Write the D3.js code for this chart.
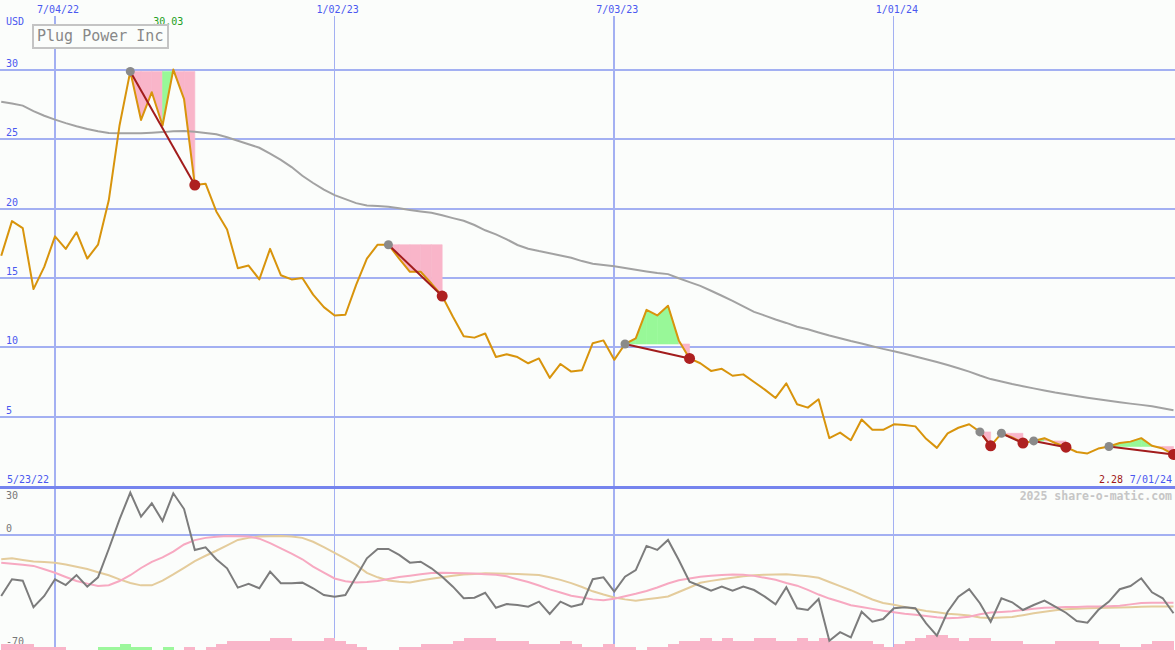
<!DOCTYPE html>
<html><head><meta charset="utf-8">
<script src="https://cdn.jsdelivr.net/npm/d3@7"></script>
<style>
body{margin:0;background:#fbfdfb}
svg{display:block}
text{font-family:"DejaVu Sans Mono","Liberation Mono",monospace}
</style>
</head><body>
<svg id="chart" width="1175" height="650"></svg>
<script>
// ---------------- data ----------------
const title = "Plug Power Inc";
const currency = "USD";
const firstWeek = "2022-05-30";      // weekly closes, Mondays
const rangeStartLabel = "5/23/22";
const endLabel = "7/01/24";

const price = [16.6,19.1,18.6,14.2,15.8,18.0,17.1,18.3,16.4,17.4,
 20.6,26.0,29.9,26.4,28.4,26.0,30.03,27.9,21.7,21.8,
 19.8,18.5,15.7,15.9,14.9,17.1,15.2,14.9,15.0,13.8,
 12.9,12.3,12.35,14.5,16.4,17.4,17.4,16.4,15.45,15.45,
 14.6,13.7,12.2,10.8,10.7,11.0,9.3,9.5,9.3,8.85,
 9.2,7.8,8.8,8.25,8.35,10.3,10.5,9.1,10.24,10.65,
 12.7,12.3,13.0,10.5,9.2,8.85,8.3,8.45,7.95,8.05,
 7.5,6.95,6.35,7.4,5.9,5.65,6.25,3.45,3.85,3.3,
 4.8,4.05,4.05,4.45,4.4,4.3,3.4,2.75,3.8,4.2,
 4.45,3.9,2.9,3.8,3.5,3.1,3.25,3.45,3.1,2.8,
 2.45,2.35,2.7,2.85,3.1,3.2,3.45,2.9,2.7,2.28];

const movingAvg = [27.71,27.58,27.43,27.04,26.7,26.42,26.17,25.95,25.75,25.58,
 25.46,25.43,25.43,25.44,25.48,25.52,25.58,25.6,25.54,25.46,
 25.36,25.15,24.9,24.65,24.39,23.97,23.52,23.0,22.37,21.85,
 21.37,20.98,20.69,20.4,20.23,20.19,20.14,20.03,19.91,19.8,
 19.7,19.52,19.32,19.13,18.82,18.44,18.15,17.79,17.38,17.11,
 16.94,16.79,16.63,16.46,16.22,16.03,15.94,15.85,15.72,15.59,
 15.47,15.36,15.28,14.98,14.7,14.43,14.08,13.72,13.35,12.95,
 12.56,12.29,12.01,11.76,11.49,11.3,11.07,10.85,10.65,10.45,
 10.27,10.08,9.89,9.72,9.54,9.34,9.14,8.94,8.72,8.49,
 8.25,7.97,7.71,7.53,7.35,7.2,7.04,6.89,6.74,6.62,
 6.49,6.37,6.26,6.15,6.04,5.94,5.85,5.75,5.61,5.47];

const oscillator = [-37.7,-27.3,-28.2,-44.7,-37.7,-27.3,-30.9,-24.7,-31.9,-26.1,
 -8.5,9.9,26.5,11.6,19.9,8.9,26.1,16.3,-9.1,-7.5,
 -14.9,-20.5,-32.5,-30.2,-32.9,-22.6,-29.8,-29.8,-29.4,-32.9,
 -37.1,-38.1,-37.1,-25.7,-14.3,-8.5,-8.5,-12.2,-17.0,-16.4,
 -20.5,-25.7,-31.9,-39.1,-38.8,-35.7,-45.0,-42.7,-43.3,-44.3,
 -41.2,-48.9,-41.2,-44.3,-42.7,-27.3,-26.1,-35.0,-25.7,-21.6,
 -6.6,-9.1,-2.9,-15.3,-28.8,-31.5,-34.4,-31.9,-34.4,-31.9,
 -34.0,-38.1,-42.9,-32.3,-45.3,-46.4,-39.6,-65.5,-60.2,-63.4,
 -47.5,-53.7,-52.0,-45.3,-44.7,-45.3,-54.7,-62.4,-47.5,-38.1,
 -33.4,-42.2,-53.7,-39.1,-41.6,-46.4,-43.3,-40.6,-44.3,-48.1,
 -53.2,-54.3,-46.4,-41.2,-33.5,-31.5,-26.7,-35.4,-39.1,-48.4];

const pinkSignal = [-17.0,-17.6,-18.3,-19.0,-21.1,-23.3,-25.9,-28.4,-30.0,-31.5,
 -31.0,-28.4,-24.8,-20.3,-16.5,-13.7,-10.1,-5.7,-3.0,-1.6,
 -0.9,-0.4,-0.6,-0.7,-2.1,-4.9,-8.1,-11.4,-14.9,-19.5,
 -23.2,-26.8,-28.5,-29.3,-29.0,-28.4,-27.1,-25.9,-25.1,-24.2,
 -23.4,-23.3,-23.4,-23.5,-23.8,-24.2,-24.5,-25.5,-27.3,-29.0,
 -31.2,-33.6,-35.5,-37.5,-38.6,-39.8,-40.4,-39.4,-37.8,-36.3,
 -34.6,-32.4,-29.9,-27.9,-26.8,-25.7,-25.1,-24.7,-24.3,-24.5,
 -25.2,-26.4,-27.6,-29.6,-31.3,-33.9,-36.8,-39.3,-41.3,-43.4,
 -44.5,-45.7,-46.8,-47.8,-48.7,-49.4,-50.1,-50.9,-51.5,-51.2,
 -50.6,-49.0,-48.0,-47.6,-47.1,-46.4,-45.6,-45.0,-44.8,-44.6,
 -44.5,-44.3,-44.2,-44.0,-43.7,-42.9,-42.0,-41.9,-41.9,-41.9];

const tanSignal = [-14.9,-14.3,-15.3,-16.3,-16.6,-17.0,-18.1,-19.5,-20.9,-22.9,
 -24.8,-27.4,-29.6,-31.1,-31.1,-28.1,-24.3,-20.2,-16.1,-12.7,
 -9.6,-6.3,-2.9,-1.6,-0.8,-0.6,-0.5,-0.8,-1.6,-4.0,
 -7.3,-10.9,-14.5,-18.4,-23.3,-26.1,-28.1,-28.8,-29.3,-28.1,
 -27.0,-26.0,-25.1,-24.4,-24.0,-23.6,-23.7,-23.9,-24.0,-24.3,
 -24.6,-26.0,-27.7,-29.7,-32.1,-34.8,-36.8,-38.6,-39.8,-40.6,
 -39.7,-38.9,-38.0,-35.2,-32.4,-29.5,-28.3,-27.3,-26.3,-25.5,
 -24.8,-24.5,-24.3,-24.2,-24.8,-25.5,-26.4,-29.0,-31.6,-34.1,
 -37.0,-39.9,-42.0,-43.2,-44.5,-45.8,-47.0,-47.8,-48.7,-49.2,
 -49.8,-51.1,-51.4,-51.1,-50.7,-49.6,-48.4,-47.5,-46.5,-46.0,
 -45.6,-45.3,-45.2,-45.0,-44.9,-44.7,-44.4,-44.3,-44.3,-44.3];

// weekly histogram strip (positive = green, negative = pink)
const histogram = [-2,-2,-2,-1,-1,-1,0,0,0,1,
 1,2,1,1,0,1,0,-1,0,-1,
 -2,-3,-3,-3,-3,-4,-4,-3,-3,-3,
 -4,-3,-2,-1,0,0,0,-1,-1,-2,
 -2,-2,-3,-4,-4,-4,-3,-3,-3,-2,
 -2,-2,-3,-2,-1,-1,-2,-1,-1,0,
 -1,-1,-2,-3,-3,-4,-3,-4,-3,-3,
 -4,-4,-3,-3,-4,-3,-4,-3,-3,-3,
 -3,-2,-1,-2,-3,-4,-5,-5,-4,-3,
 -4,-4,-3,-3,-3,-2,-2,-2,-3,-3,
 -3,-3,-2,-2,-1,-1,-2,-3,-3];

// trend signals: start / end weeks
const signalStart = ["2022-08-22","2023-02-06","2023-07-10","2024-02-26","2024-03-11","2024-04-01","2024-05-20"];
const signalEnd   = ["2022-10-03","2023-03-13","2023-08-21","2024-03-04","2024-03-25","2024-04-22","2024-07-01"];

const gridDates  = ["2022-07-04","2023-01-02","2023-07-03","2024-01-01"];
const gridLabels = ["7/04/22","1/02/23","7/03/23","1/01/24"];
const gridMajor  = [true,false,true,false];
const priceTicks = [30,25,20,15,10,5];
const lowerTickLabels = [30,0,-70];
const lowerGrid = [0];
const credit = "2025 share-o-matic.com";

// ---------------- drawing ----------------
const W = 1175, H = 650;
const BG = "#fbfdfb", GRID = "#a3b0f2", BLUE = "#4a58f0";
const parse = d3.utcParse("%Y-%m-%d");
const t0 = parse(firstWeek);
const dates = price.map((_, i) => d3.utcDay.offset(t0, 7 * i));
const idxOf = s => Math.round((parse(s) - t0) / (7 * 864e5));

const x = d3.scaleUtc().domain([parse("2022-07-04"), parse("2024-07-01")]).range([55, 1173.5]);
const y = d3.scaleLinear().domain([0, 30]).range([486, 70]);
const y2 = d3.scaleLinear().domain([-70, 30]).range([648, 487]);
const yh = d3.scaleLinear().domain([0, 5]).range([650, 635]);

const svg = d3.select("#chart");
svg.append("rect").attr("width", W).attr("height", H).attr("fill", BG);

// horizontal grid (price)
svg.append("g").selectAll("line").data(priceTicks).join("line")
  .attr("x1", 0).attr("x2", W).attr("y1", d => y(d)).attr("y2", d => y(d))
  .attr("stroke", GRID).attr("stroke-width", 2).attr("shape-rendering", "crispEdges");
// lower grid
svg.append("g").selectAll("line").data(lowerGrid).join("line")
  .attr("x1", 0).attr("x2", W).attr("y1", d => y2(d)).attr("y2", d => y2(d))
  .attr("stroke", GRID).attr("stroke-width", 2).attr("shape-rendering", "crispEdges");
// vertical grid
svg.append("g").selectAll("line").data(gridDates).join("line")
  .attr("x1", d => x(parse(d))).attr("x2", d => x(parse(d)))
  .attr("y1", 16).attr("y2", H)
  .attr("stroke", GRID).attr("stroke-width", (d, i) => gridMajor[i] ? 2 : 1)
  .attr("shape-rendering", "crispEdges");
// panel separator
svg.append("line").attr("x1", 0).attr("x2", W).attr("y1", y(0) + 1).attr("y2", y(0) + 1)
  .attr("stroke", "#7584ee").attr("stroke-width", 3).attr("shape-rendering", "crispEdges");

// date labels
svg.append("g").selectAll("text").data(gridDates).join("text")
  .attr("x", d => x(parse(d)) + 3).attr("y", 12.5).attr("text-anchor", "middle")
  .attr("font-size", 10).attr("fill", BLUE).text((d, i) => gridLabels[i]);
// price tick labels
svg.append("g").selectAll("text").data(priceTicks).join("text")
  .attr("x", 6).attr("y", d => y(d) - 3).attr("font-size", 10).attr("fill", BLUE).text(d => d);
svg.append("text").attr("x", 6).attr("y", 25).attr("font-size", 10).attr("fill", BLUE).text(currency);
// lower tick labels
svg.append("g").selectAll("text").data(lowerTickLabels).join("text")
  .attr("x", 6).attr("y", d => Math.max(y2(d) - 3, 499)).attr("font-size", 10)
  .attr("fill", "#777").text(d => d === -70 ? "\u221270".replace("\u2212","-") : d);

// histogram strip
svg.append("g").selectAll("rect").data(histogram.map((v, j) => ({v, j})).filter(d => d.v !== 0)).join("rect")
  .attr("x", d => x(dates[d.j])).attr("width", d => x(dates[d.j + 1]) - x(dates[d.j]) + 0.5)
  .attr("y", d => yh(Math.abs(d.v))).attr("height", d => yh(0) - yh(Math.abs(d.v)))
  .attr("fill", d => d.v > 0 ? "#9cf79c" : "#f9b5c9").attr("shape-rendering", "crispEdges");

// lower lines
const l2 = arr => d3.line().x((d, i) => x(dates[i])).y(d => y2(d))(arr);
svg.append("path").attr("d", l2(tanSignal)).attr("fill", "none").attr("stroke", "#e4cc9c").attr("stroke-width", 2);
svg.append("path").attr("d", l2(pinkSignal)).attr("fill", "none").attr("stroke", "#f7a9c1").attr("stroke-width", 2);
svg.append("path").attr("d", l2(oscillator)).attr("fill", "none").attr("stroke", "#7c7c7c").attr("stroke-width", 2);

// signal fills
const fills = svg.append("g");
signalStart.forEach((s, k) => {
  const si = idxOf(s), ei = idxOf(signalEnd[k]);
  const L = price[si];
  for (let j = si; j < ei; j++) {
    const pts = [[x(dates[j]), y(L)], [x(dates[j + 1]), y(L)], [x(dates[j + 1]), y(price[j + 1])], [x(dates[j]), y(price[j])]];
    const col = price[j + 1] > L ? "#98f898" : "#f9b5c9";
    fills.append("polygon").attr("points", pts.map(p => p.join(",")).join(" "))
      .attr("fill", col).attr("stroke", col).attr("stroke-width", 0.6);
  }
});

// moving average
const l1 = arr => d3.line().x((d, i) => x(dates[i])).y(d => y(d))(arr);
svg.append("path").attr("d", l1(movingAvg)).attr("fill", "none").attr("stroke", "#a2a2a2").attr("stroke-width", 2);
// price line
svg.append("path").attr("d", l1(price)).attr("fill", "none").attr("stroke", "#d8940c").attr("stroke-width", 2).attr("stroke-linejoin", "round");

// trend lines and dots
const sig = svg.append("g");
signalStart.forEach((s, k) => {
  const si = idxOf(s), ei = idxOf(signalEnd[k]);
  sig.append("line").attr("x1", x(dates[si])).attr("y1", y(price[si]))
    .attr("x2", x(dates[ei])).attr("y2", y(price[ei])).attr("stroke", "#a21c1c").attr("stroke-width", 2);
});
signalStart.forEach((s, k) => {
  const si = idxOf(s), ei = idxOf(signalEnd[k]);
  sig.append("circle").attr("cx", x(dates[si])).attr("cy", y(price[si])).attr("r", 4.5).attr("fill", "#8a8a8a");
  sig.append("circle").attr("cx", x(dates[ei])).attr("cy", y(price[ei])).attr("r", 5.5).attr("fill", "#ae2020");
});

// max label
const maxI = d3.maxIndex(price);
svg.append("text").attr("x", x(dates[maxI]) - 5).attr("y", 25).attr("text-anchor", "middle")
  .attr("font-size", 10).attr("fill", "#22a022").text(d3.format(".2f")(price[maxI]));

// title box
svg.append("rect").attr("x", 33).attr("y", 25).attr("width", 135).attr("height", 23)
  .attr("fill", BG).attr("stroke", "#c4c4c4").attr("stroke-width", 2);
svg.append("text").attr("x", 37).attr("y", 41).attr("font-size", 15).attr("fill", "#888").text(title);

// bottom labels of price panel
svg.append("text").attr("x", 7).attr("y", 483).attr("font-size", 10).attr("fill", BLUE).text(rangeStartLabel);
svg.append("text").attr("x", 1172).attr("y", 483).attr("text-anchor", "end").attr("font-size", 10).attr("fill", BLUE).text(endLabel);
svg.append("text").attr("x", 1123).attr("y", 483).attr("text-anchor", "end").attr("font-size", 10).attr("fill", "#a01818")
  .text(d3.format(".2f")(price[price.length - 1]));
svg.append("text").attr("x", 1172).attr("y", 500).attr("text-anchor", "end").attr("font-size", 11.5)
  .attr("font-weight", "bold").attr("fill", "#c6c6c6").text(credit);
</script>
</body></html>
